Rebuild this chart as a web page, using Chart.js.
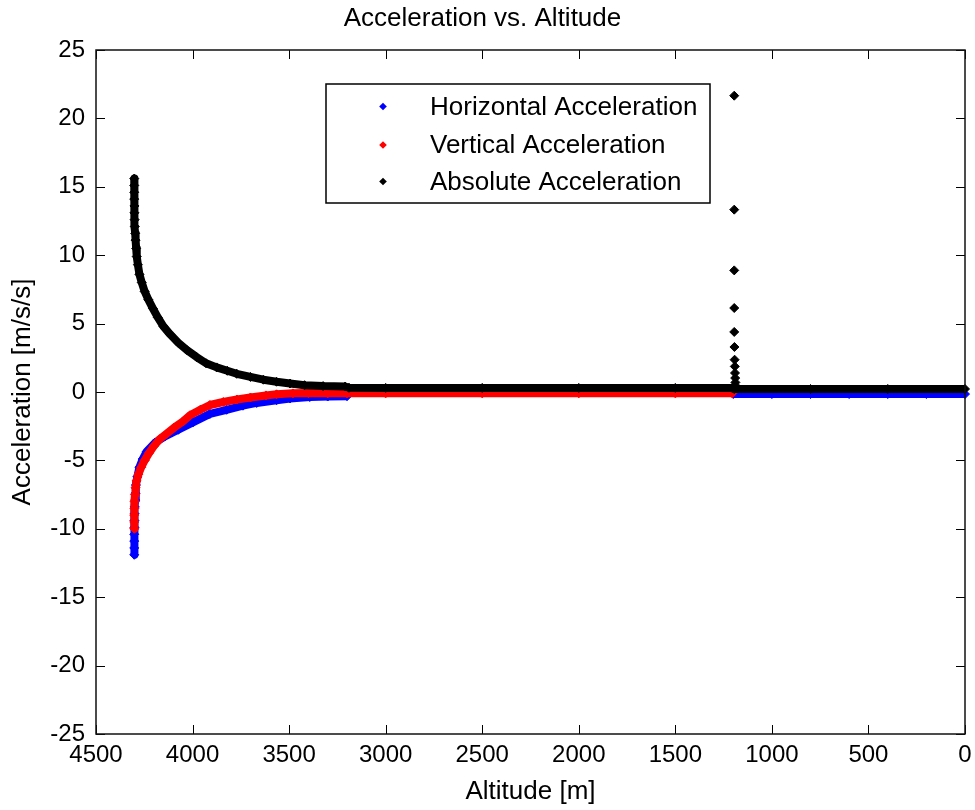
<!DOCTYPE html>
<html><head><meta charset="utf-8">
<script src="https://cdn.jsdelivr.net/npm/chart.js@4/dist/chart.umd.min.js"></script>
<style>html,body{margin:0;padding:0;background:#fff}#wrap{width:975px;height:810px}</style>
</head><body><div id="wrap"><canvas id="c" width="975" height="810"></canvas></div>
<script>
// ---- text ----
const chartTitle = 'Acceleration vs. Altitude';
const xAxisTitle = 'Altitude [m]';
const yAxisTitle = 'Acceleration [m/s/s]';
const seriesNames = ['Horizontal Acceleration', 'Vertical Acceleration', 'Absolute Acceleration'];
const seriesColors = ['#0000ff', '#ff0000', '#000000'];
// ---- tick labels ----
const xTickValues = [0, 500, 1000, 1500, 2000, 2500, 3000, 3500, 4000, 4500];
const yTickValues = [-25, -20, -15, -10, -5, 0, 5, 10, 15, 20, 25];

// ---- Horizontal acceleration (altitude m, value m/s/s) ----
const horizAltitude = [4302,4302,4302,4302,4301,4301,4300,4299,4297,4295,4293,4286,4275,4258,4237,4194,4143,4074,3996,3910,3824,3739,3668,3565,3495,3393,3300,3200,3190,1200,1000,800,600,400,200,0];
const horizAccel    = [-11.9,-11.4,-10.9,-10.4,-9.9,-9.4,-8.9,-8.4,-7.9,-7.4,-6.8,-6.2,-5.5,-4.9,-4.35,-3.7,-3.24,-2.76,-2.2,-1.6,-1.3,-1.0,-0.8,-0.6,-0.47,-0.37,-0.33,-0.31,null,-0.15,-0.15,-0.15,-0.15,-0.15,-0.15,-0.15];

// ---- Vertical acceleration ----
const vertAltitude = [4302,4302,4302,4301,4300,4298,4295,4290,4280,4266,4248,4225,4200,4170,4134,4095,4050,4013,3960,3910,3841,3770,3700,3620,3565,3480,3400,3300,3200,3000,2500,2000,1500,1205];
const vertAccel    = [-10.0,-9.5,-9.0,-8.5,-8.0,-7.5,-7.0,-6.5,-6.0,-5.5,-5.0,-4.45,-3.95,-3.45,-3.05,-2.6,-2.15,-1.7,-1.3,-0.95,-0.73,-0.55,-0.4,-0.25,-0.17,-0.1,-0.08,-0.1,-0.1,-0.1,-0.1,-0.1,-0.1,-0.1];

// ---- Absolute acceleration ----
const absAltitude = [4302,4302,4302,4302,4301,4301,4300,4299,4297,4295,4292,4289,4283,4275,4263,4248,4229,4205,4180,4151,4115,4074,4028,3979,3930,3875,3820,3771,3700,3633,3565,3495,3420,3324,3210,3190,3000,2500,2000,1500,1205,1195,800,400,0];
const absAccel    = [15.6,15.1,14.6,14.1,13.6,13.1,12.6,12.1,11.6,11.1,10.5,9.9,9.3,8.6,8.0,7.35,6.75,6.1,5.45,4.8,4.2,3.6,3.05,2.55,2.1,1.8,1.55,1.33,1.1,0.9,0.75,0.62,0.5,0.43,0.4,0.31,0.3,0.3,0.3,0.3,0.3,0.22,0.22,0.22,0.22];

// ---- Absolute acceleration spike near 1195 m ----
const spikeAltitude = [1195,1195,1195,1195,1195,1194,1193,1192,1191,1190,1189,1188];
const spikeAccel    = [21.66,13.33,8.89,6.14,4.39,3.29,2.36,1.87,1.39,1.02,0.70,0.46];

const pts = (xs, ys) => xs.map((x, i) => ({ x: x, y: ys[i] }));

const FONT = "'Liberation Sans', Arial, Helvetica, sans-serif";
Chart.defaults.font.family = FONT;
Chart.defaults.color = '#000';

const mkLine = (label, xs, ys, color, order) => ({
  label: label, data: pts(xs, ys), showLine: true, spanGaps: false,
  borderColor: color, backgroundColor: color, borderWidth: 8,
  borderJoinStyle: 'round', borderCapStyle: 'butt',
  pointStyle: 'rectRot', pointRadius: 4.5, pointBorderWidth: 1,
  pointBorderColor: color, pointBackgroundColor: color,
  order: order, clip: false, inLegend: true
});

const datasets = [
  mkLine(seriesNames[0], horizAltitude, horizAccel, seriesColors[0], 3),
  mkLine(seriesNames[1], vertAltitude, vertAccel, seriesColors[1], 2),
  mkLine(seriesNames[2], absAltitude, absAccel, seriesColors[2], 1),
  { label: seriesNames[2], data: pts(spikeAltitude, spikeAccel), showLine: false,
    pointStyle: 'rectRot', pointRadius: 4.5, pointBorderWidth: 1,
    borderColor: seriesColors[2], backgroundColor: seriesColors[2],
    pointBackgroundColor: seriesColors[2], pointBorderColor: seriesColors[2],
    order: 0, clip: false, inLegend: false }
];

const framePlugin = {
  id: 'matlabFrame',
  afterDatasetsDraw(chart) {
    const { ctx, chartArea: { left, top, right, bottom }, scales: { x, y } } = chart;
    const TL = 9;
    ctx.save();
    ctx.strokeStyle = '#000';
    ctx.lineWidth = 1;
    ctx.beginPath();
    xTickValues.forEach(v => {
      const px = Math.round(x.getPixelForValue(v)) + 0.5;
      ctx.moveTo(px, bottom); ctx.lineTo(px, bottom - TL);
      ctx.moveTo(px, top); ctx.lineTo(px, top + TL);
    });
    yTickValues.forEach(v => {
      const py = Math.round(y.getPixelForValue(v)) + 0.5;
      ctx.moveTo(left, py); ctx.lineTo(left + TL, py);
      ctx.moveTo(right, py); ctx.lineTo(right - TL, py);
    });
    ctx.stroke();
    ctx.lineWidth = 1.5;
    ctx.strokeStyle = '#111';
    ctx.strokeRect(left, top, right - left, bottom - top);
    ctx.restore();
  }
};

const legendPlugin = {
  id: 'boxLegend',
  afterDraw(chart) {
    const { ctx, chartArea } = chart;
    const bx = chartArea.left + 230, by = chartArea.top + 34, bw = 384, bh = 119;
    ctx.save();
    ctx.fillStyle = '#fff';
    ctx.fillRect(bx, by, bw, bh);
    ctx.strokeStyle = '#000';
    ctx.lineWidth = 1.5;
    ctx.strokeRect(bx, by, bw, bh);
    const items = chart.data.datasets.filter(d => d.inLegend);
    const rowY = [22.5, 61, 97.5];
    ctx.font = '26px ' + FONT;
    ctx.textBaseline = 'middle';
    ctx.textAlign = 'left';
    items.forEach((d, i) => {
      const cy = by + rowY[i];
      const mx = bx + 57, r = 3.8;
      ctx.fillStyle = d.borderColor;
      ctx.beginPath();
      ctx.moveTo(mx, cy - r); ctx.lineTo(mx + r, cy); ctx.lineTo(mx, cy + r); ctx.lineTo(mx - r, cy); ctx.closePath();
      ctx.fill();
      ctx.fillStyle = '#000';
      ctx.fillText(d.label, bx + 104, cy + 1);
    });
    ctx.restore();
  }
};

new Chart(document.getElementById('c'), {
  type: 'scatter',
  data: { datasets: datasets },
  options: {
    responsive: false, animation: false, devicePixelRatio: 1,
    layout: { padding: { left: 0, right: 10, top: 0, bottom: 0 } },
    plugins: {
      legend: { display: false },
      tooltip: { enabled: false },
      title: { display: true, text: chartTitle, color: '#000',
        font: { size: 26, weight: 'normal', family: FONT },
        padding: { top: 3, bottom: 15.8 } }
    },
    scales: {
      x: {
        type: 'linear', reverse: true, min: 0, max: 4500,
        afterBuildTicks: s => { s.ticks = xTickValues.map(v => ({ value: v })); },
        afterFit: s => { s.height = 76; },
        ticks: { font: { size: 24 }, color: '#000', padding: 7, maxRotation: 0, autoSkip: false,
          callback: v => String(v) },
        grid: { display: false, drawTicks: false },
        border: { display: false },
        title: { display: true, text: xAxisTitle, color: '#000', font: { size: 26 }, padding: { top: 0, bottom: 3 } }
      },
      y: {
        type: 'linear', min: -25, max: 25,
        afterBuildTicks: s => { s.ticks = yTickValues.map(v => ({ value: v })); },
        afterFit: s => { s.width = 96; },
        ticks: { font: { size: 24 }, color: '#000', padding: 11, autoSkip: false,
          callback: v => String(v) },
        grid: { display: false, drawTicks: false },
        border: { display: false },
        title: { display: true, text: yAxisTitle, color: '#000', font: { size: 26 }, padding: { top: 7, bottom: 0 } }
      }
    }
  },
  plugins: [framePlugin, legendPlugin]
});
</script>
</body></html>
